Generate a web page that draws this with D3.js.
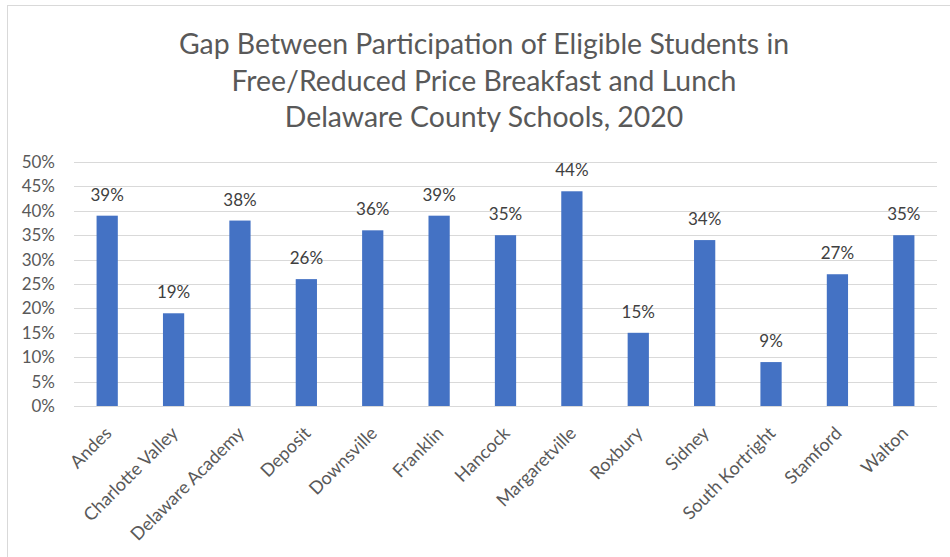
<!DOCTYPE html>
<html>
<head>
<meta charset="utf-8">
<script src="https://cdn.jsdelivr.net/npm/d3@7.9.0/dist/d3.min.js"></script>
<style>
  body { margin: 0; background: #fff; }
  svg { display: block; font-family: Lato, "Open Sans", sans-serif; }
</style>
</head>
<body>
<svg id="chart" width="950" height="557"></svg>
<script>
// chart data
const schools = ['Andes', 'Charlotte Valley', 'Delaware Academy', 'Deposit', 'Downsville',
  'Franklin', 'Hancock', 'Margaretville', 'Roxbury', 'Sidney', 'South Kortright', 'Stamford', 'Walton'];
const gapValues = [39, 19, 38, 26, 36, 39, 35, 44, 15, 34, 9, 27, 35];
const yTicks = [0, 5, 10, 15, 20, 25, 30, 35, 40, 45, 50];
const titleLines = [
  'Gap Between Participation of Eligible Students in',
  'Free/Reduced Price Breakfast and Lunch',
  'Delaware County Schools, 2020'
];

const svg = d3.select('#chart');
const margin = { left: 74, right: 13, top: 162, bottom: 151 };
const width = 950, height = 557;

// outer chart border (Excel style)
svg.append('rect')
  .attr('x', 7.5).attr('y', 5.5)
  .attr('width', 960).attr('height', 600)
  .attr('fill', 'none')
  .attr('stroke', '#d9d9d9');

const x = d3.scaleBand()
  .domain(schools)
  .range([margin.left, width - margin.right])
  .paddingInner(0.68)
  .paddingOuter(0.34);

const y = d3.scaleLinear()
  .domain([0, 50])
  .range([height - margin.bottom, margin.top]);

// title
svg.append('g').selectAll('text')
  .data(titleLines)
  .join('text')
  .attr('x', 484)
  .attr('y', (d, i) => 54 + i * 36.5)
  .attr('text-anchor', 'middle')
  .attr('fill', '#595959')
  .style('font-size', '28.4px')
  .text(d => d);

// gridlines
svg.append('g').selectAll('line')
  .data(yTicks)
  .join('line')
  .attr('x1', margin.left).attr('x2', width - margin.right)
  .attr('y1', d => Math.round(y(d)) + 0.5).attr('y2', d => Math.round(y(d)) + 0.5)
  .attr('stroke', '#d9d9d9')
  .attr('stroke-width', 1);

// y tick labels
svg.append('g').selectAll('text')
  .data(yTicks)
  .join('text')
  .attr('x', 55)
  .attr('y', d => y(d))
  .attr('dy', '0.35em')
  .attr('text-anchor', 'end')
  .attr('fill', '#595959')
  .style('font-size', '17px')
  .text(d => d + '%');

// bars
svg.append('g').selectAll('rect')
  .data(gapValues)
  .join('rect')
  .attr('x', (d, i) => x(schools[i]))
  .attr('width', x.bandwidth())
  .attr('y', d => y(d))
  .attr('height', d => y(0) - y(d))
  .attr('fill', '#4472c4');

// data labels
svg.append('g').selectAll('text')
  .data(gapValues)
  .join('text')
  .attr('x', (d, i) => x(schools[i]) + x.bandwidth() / 2)
  .attr('y', d => y(d) - 15)
  .attr('text-anchor', 'middle')
  .attr('fill', '#404040')
  .style('font-size', '17px')
  .text(d => d + '%');

// x category labels, rotated
svg.append('g').selectAll('text')
  .data(schools)
  .join('text')
  .attr('transform', d => `translate(${x(d) + x.bandwidth() / 2 + 1},${y(0) + 24}) rotate(-45)`)
  .attr('text-anchor', 'end')
  .attr('dy', '0.35em')
  .attr('fill', '#595959')
  .style('font-size', '18px')
  .text(d => d);
</script>
</body>
</html>
